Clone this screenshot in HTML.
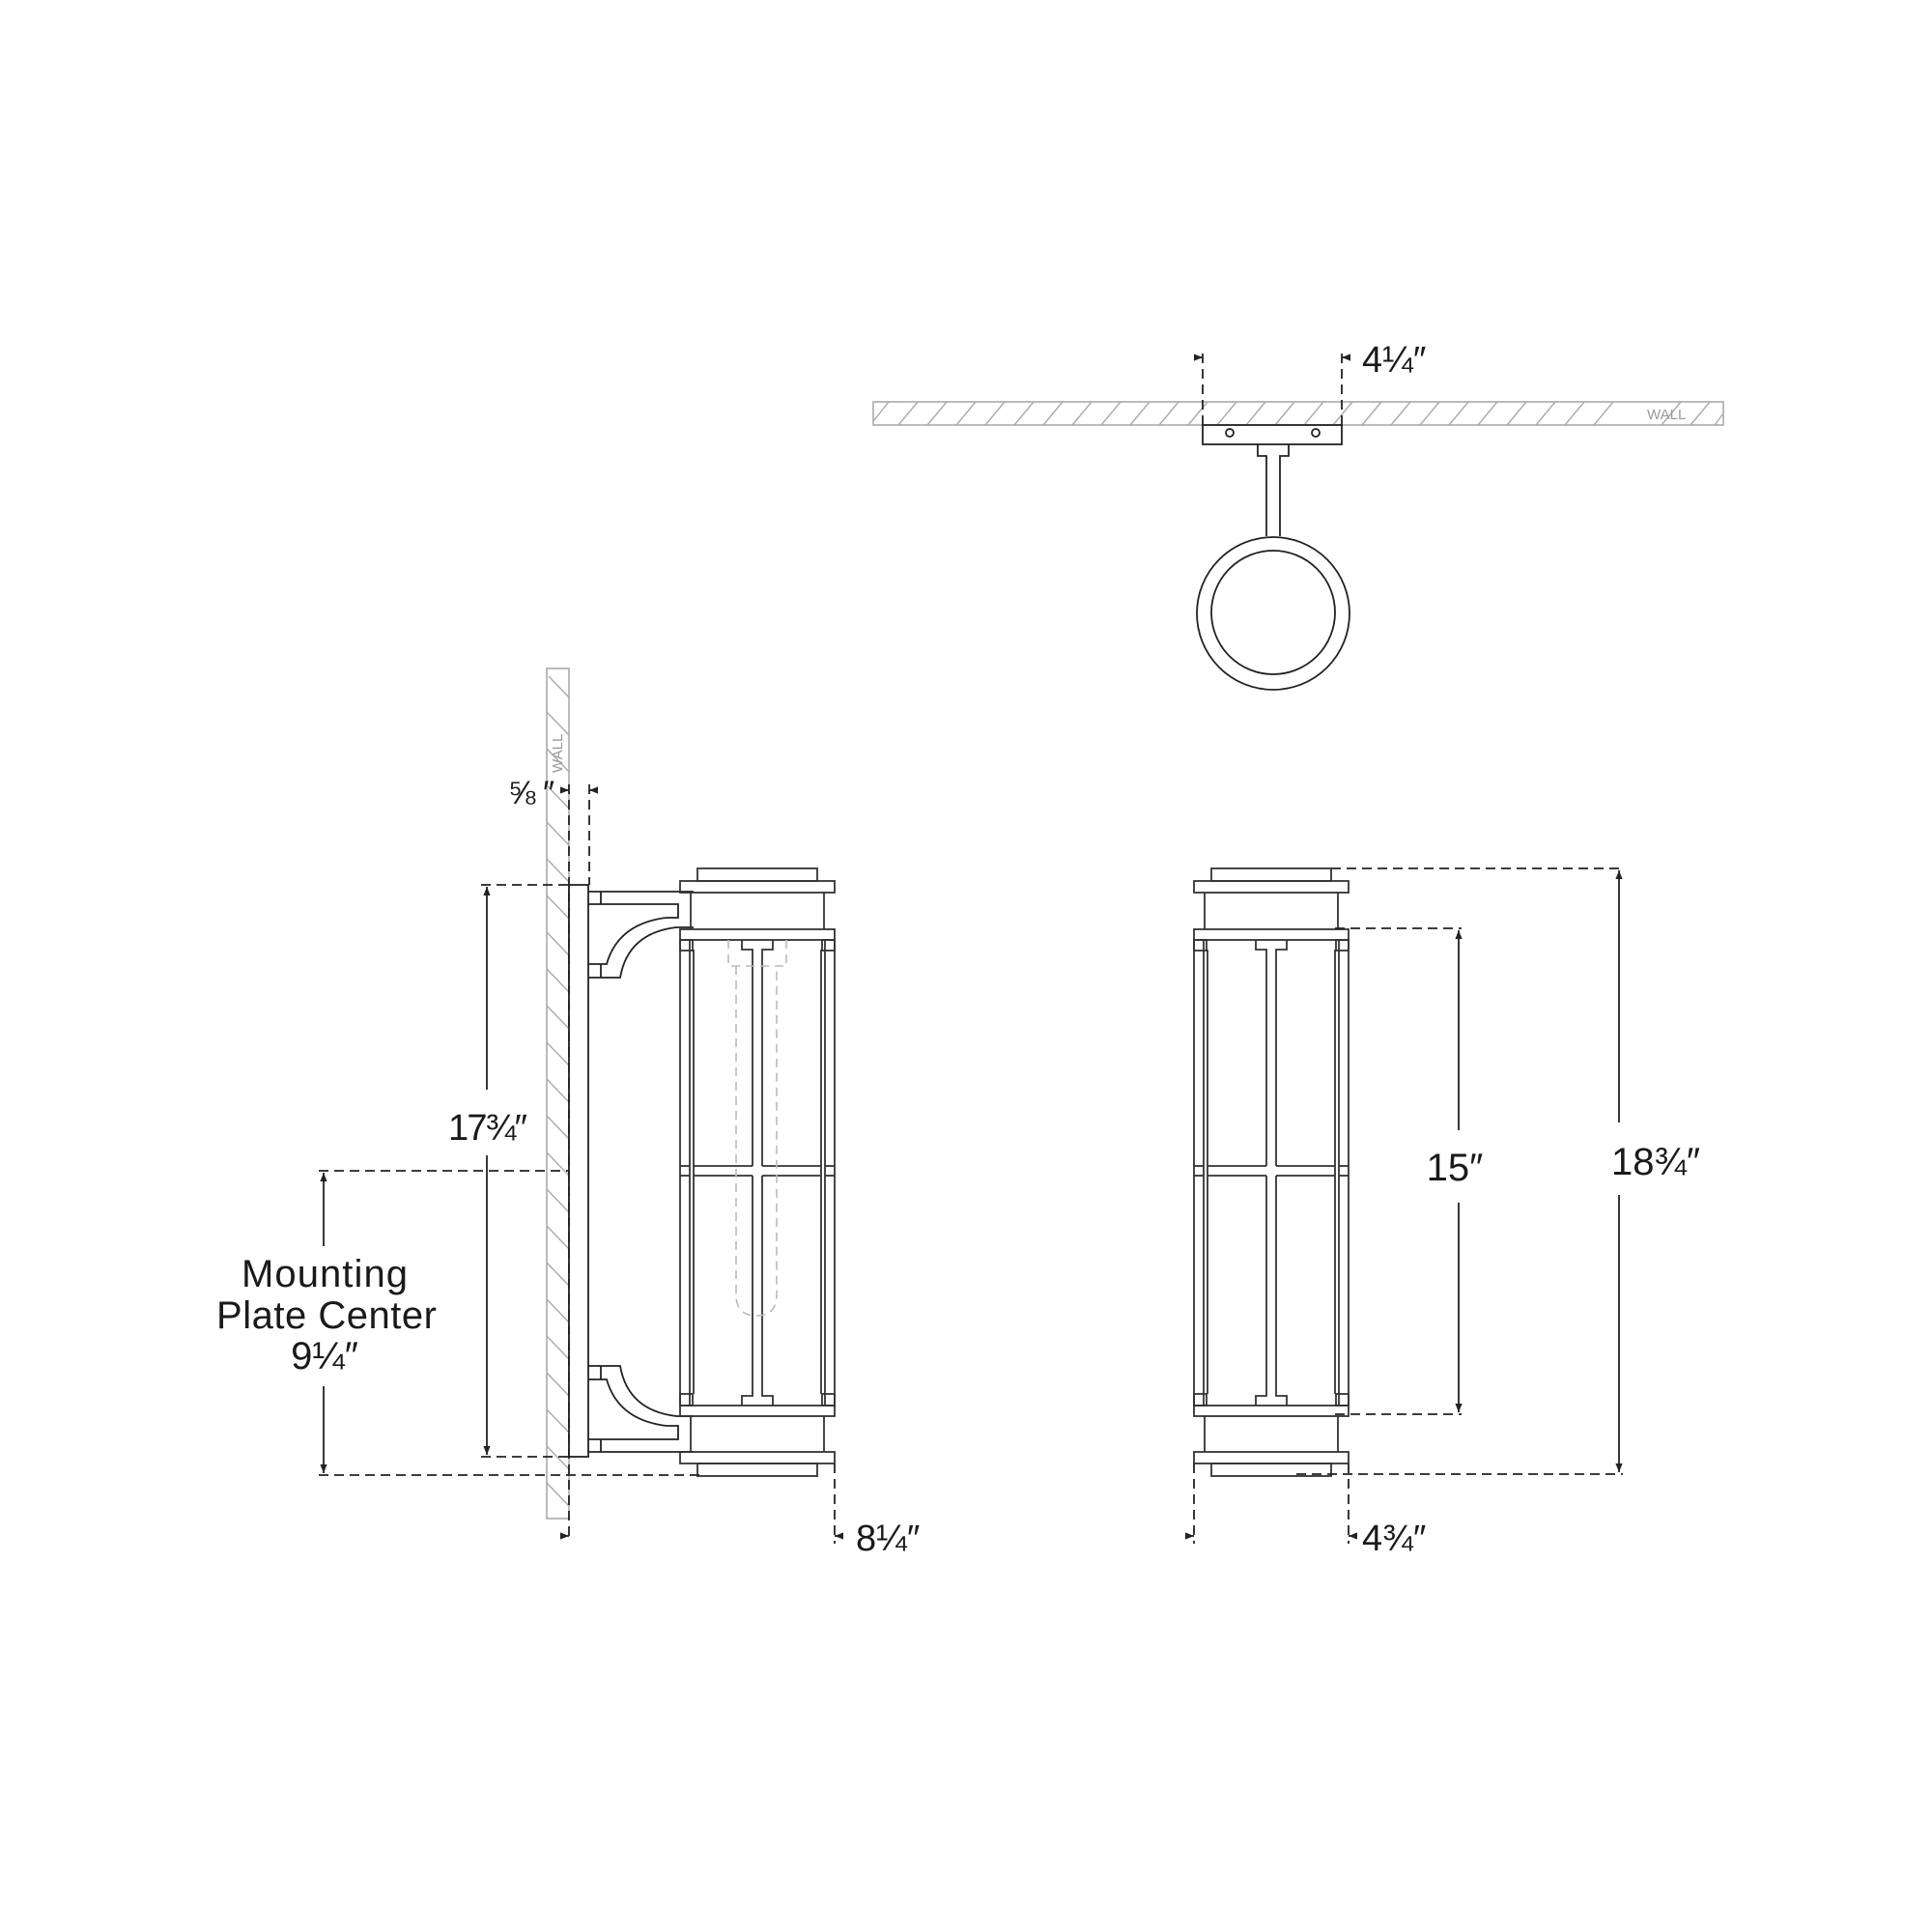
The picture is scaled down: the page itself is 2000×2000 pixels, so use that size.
<!DOCTYPE html>
<html><head><meta charset="utf-8"><style>
html,body{margin:0;padding:0;background:#fff}
svg{display:block}
text{font-family:"Liberation Sans",sans-serif;fill:#1a1a1a}
</style></head><body>
<svg width="2000" height="2000" viewBox="0 0 2000 2000" xmlns="http://www.w3.org/2000/svg">
<defs>
<marker id="ar" viewBox="0 0 10 10" refX="10" refY="5" markerWidth="9" markerHeight="9" orient="auto-start-reverse" markerUnits="userSpaceOnUse"><path d="M0,1 L10,5 L0,9 Z" fill="#222"/></marker>
<g id="lant" fill="none" stroke="#333" stroke-width="1.8">
  <rect x="18" y="899" width="124" height="13"/>
  <rect x="0" y="912" width="160" height="12"/>
  <line x1="11" y1="924" x2="11" y2="962"/><line x1="149" y1="924" x2="149" y2="962"/>
  <rect x="0" y="962" width="160" height="11"/>
  <line x1="0" y1="973" x2="0" y2="1455"/><line x1="160" y1="973" x2="160" y2="1455"/>
  <line x1="10" y1="973" x2="10" y2="1455"/><line x1="14" y1="983" x2="14" y2="1443"/>
  <line x1="150" y1="973" x2="150" y2="1455"/><line x1="146" y1="983" x2="146" y2="1443"/>
  <rect x="0" y="973" width="13" height="11"/><rect x="147" y="973" width="13" height="11"/>
  <rect x="0" y="1443" width="13" height="12"/><rect x="147" y="1443" width="13" height="12"/>
  <path d="M64,973 V983 H75 V1207 M96,973 V983 H85 V1207"/>
  <path d="M64,1455 V1445 H75 V1217 M96,1455 V1445 H85 V1217"/>
  <line x1="14" y1="1207" x2="75" y2="1207"/><line x1="85" y1="1207" x2="146" y2="1207"/>
  <line x1="14" y1="1217" x2="75" y2="1217"/><line x1="85" y1="1217" x2="146" y2="1217"/>
  <line x1="0" y1="1207" x2="10" y2="1207"/><line x1="150" y1="1207" x2="160" y2="1207"/>
  <line x1="0" y1="1217" x2="10" y2="1217"/><line x1="150" y1="1217" x2="160" y2="1217"/>
  <rect x="0" y="1455" width="160" height="11"/>
  <line x1="11" y1="1466" x2="11" y2="1503"/><line x1="149" y1="1466" x2="149" y2="1503"/>
  <rect x="0" y="1503" width="160" height="12"/>
  <rect x="18" y="1515" width="124" height="13"/>
</g>
</defs>

<g stroke="#222" stroke-width="1.8" fill="none">
<!-- ===== TOP VIEW ===== -->
<rect x="904" y="416" width="880" height="24" stroke="#aaa" stroke-width="1.6"/>
<g stroke="#aaa" stroke-width="1.4">
<path d="M904,436 L920,416 M930,440 L950,416 M960,440 L980,416 M990,440 L1010,416 M1020,440 L1040,416 M1050,440 L1070,416 M1080,440 L1100,416 M1110,440 L1130,416 M1140,440 L1160,416 M1170,440 L1190,416 M1200,440 L1220,416 M1230,440 L1250,416 M1260,440 L1280,416 M1290,440 L1310,416 M1320,440 L1340,416 M1350,440 L1370,416 M1380,440 L1400,416 M1410,440 L1430,416 M1440,440 L1460,416 M1470,440 L1490,416 M1500,440 L1520,416 M1530,440 L1550,416 M1560,440 L1580,416 M1590,440 L1610,416 M1620,440 L1640,416 M1650,440 L1670,416 M1720,440 L1740,416 M1750,440 L1770,416 M1775,440 L1784,428"/>
</g>
<rect x="1245" y="440" width="144" height="20" fill="#fff"/>
<circle cx="1273" cy="448" r="4"/><circle cx="1362" cy="448" r="4"/>
<path d="M1302,460 V472 H1311 V555 M1334,460 V472 H1325 V555"/>
<circle cx="1318" cy="635" r="79"/>
<circle cx="1318" cy="634" r="64"/>
<g stroke-dasharray="10,6"><line x1="1245" y1="366" x2="1245" y2="440"/><line x1="1389" y1="366" x2="1389" y2="440"/></g>
<line x1="1236" y1="370" x2="1245" y2="370" marker-end="url(#ar)"/>
<line x1="1398" y1="370" x2="1389" y2="370" marker-end="url(#ar)"/>

<!-- ===== SIDE VIEW ===== -->
<rect x="566" y="692" width="23" height="880" stroke="#aaa" stroke-width="1.6"/>
<g stroke="#aaa" stroke-width="1.4">
<path d="M568,700 L589,722 M566,737 L589,761 M566,775 L589,799 M566,813 L589,837 M566,851 L589,875 M566,889 L589,913 M566,927 L589,951 M566,965 L589,989 M566,1003 L589,1027 M566,1041 L589,1065 M566,1079 L589,1103 M566,1117 L589,1141 M566,1155 L589,1179 M566,1193 L589,1217 M566,1231 L589,1255 M566,1269 L589,1293 M566,1307 L589,1331 M566,1345 L589,1369 M566,1383 L589,1407 M566,1421 L589,1445 M566,1459 L589,1483 M566,1497 L589,1521 M566,1535 L589,1559"/>
</g>
<rect x="589" y="916" width="20" height="592"/>
<g fill="none">
<path d="M609,923 H718"/>
<path d="M609,936 H702 V950 H690 Q640,956 628,998 H609"/>
<path d="M718,960 H700 Q650,966 642,1012 H609"/>
<line x1="622" y1="923" x2="622" y2="936"/><line x1="622" y1="998" x2="622" y2="1012"/>
<g transform="translate(0,2426) scale(1,-1)">
<path d="M609,923 H718"/>
<path d="M609,936 H702 V950 H690 Q640,956 628,998 H609"/>
<path d="M718,960 H700 Q650,966 642,1012 H609"/>
<line x1="622" y1="923" x2="622" y2="936"/><line x1="622" y1="998" x2="622" y2="1012"/>
</g>
</g>
<use href="#lant" x="704"/>
<g stroke="#bbb" stroke-width="1.6" stroke-dasharray="9,6">
<path d="M754,973 V1000 H814 V973"/>
<path d="M762,1000 V1340 Q762,1362 783,1362 Q804,1362 804,1340 V1000"/>
</g>
<g stroke-dasharray="10,6">
<line x1="589" y1="812" x2="589" y2="1596"/>
<line x1="610" y1="812" x2="610" y2="916"/>
<line x1="498" y1="916" x2="589" y2="916"/>
<line x1="498" y1="1508" x2="589" y2="1508"/>
<line x1="330" y1="1212" x2="589" y2="1212"/>
<line x1="330" y1="1527" x2="724" y2="1527"/>
<line x1="864" y1="1515" x2="864" y2="1598"/>
</g>
<line x1="580" y1="818" x2="589" y2="818" marker-end="url(#ar)"/>
<line x1="619" y1="818" x2="610" y2="818" marker-end="url(#ar)"/>
<line x1="580" y1="1590" x2="589" y2="1590" marker-end="url(#ar)"/>
<line x1="873" y1="1590" x2="864" y2="1590" marker-end="url(#ar)"/>
<line x1="504" y1="1128" x2="504" y2="918" marker-end="url(#ar)"/>
<line x1="504" y1="1196" x2="504" y2="1506" marker-end="url(#ar)"/>
<line x1="335" y1="1290" x2="335" y2="1214" marker-end="url(#ar)"/>
<line x1="335" y1="1435" x2="335" y2="1525" marker-end="url(#ar)"/>

<!-- ===== FRONT VIEW ===== -->
<use href="#lant" x="1236"/>
<g stroke-dasharray="10,6">
<line x1="1378" y1="899" x2="1680" y2="899"/>
<line x1="1382" y1="961" x2="1513" y2="961"/>
<line x1="1382" y1="1464" x2="1513" y2="1464"/>
<line x1="1342" y1="1526" x2="1680" y2="1526"/>
<line x1="1236" y1="1515" x2="1236" y2="1598"/>
<line x1="1396" y1="1515" x2="1396" y2="1598"/>
</g>
<line x1="1510" y1="1170" x2="1510" y2="963" marker-end="url(#ar)"/>
<line x1="1510" y1="1245" x2="1510" y2="1462" marker-end="url(#ar)"/>
<line x1="1676" y1="1162" x2="1676" y2="901" marker-end="url(#ar)"/>
<line x1="1676" y1="1237" x2="1676" y2="1524" marker-end="url(#ar)"/>
<line x1="1227" y1="1590" x2="1236" y2="1590" marker-end="url(#ar)"/>
<line x1="1405" y1="1590" x2="1396" y2="1590" marker-end="url(#ar)"/>
</g>

<!-- labels -->
<text x="1410" y="385" font-size="38">4¼″</text>
<text x="1705" y="434" font-size="15" style="fill:#999">WALL</text>
<text x="0" y="0" font-size="15" style="fill:#999" transform="translate(582,800) rotate(-90)">WALL</text>
<text x="526" y="832" font-size="34" textLength="48">⅝″</text>
<text x="464" y="1180" font-size="38" textLength="82">17¾″</text>
<text x="336" y="1332" font-size="40" text-anchor="middle" textLength="172">Mounting</text>
<text x="338" y="1375" font-size="40" text-anchor="middle" textLength="228">Plate Center</text>
<text x="336" y="1417" font-size="40" text-anchor="middle">9¼″</text>
<text x="886" y="1605" font-size="38">8¼″</text>
<text x="1506" y="1222" font-size="40" text-anchor="middle">15″</text>
<text x="1714" y="1216" font-size="40" text-anchor="middle">18¾″</text>
<text x="1410" y="1605" font-size="38">4¾″</text>
</svg>
</body></html>
